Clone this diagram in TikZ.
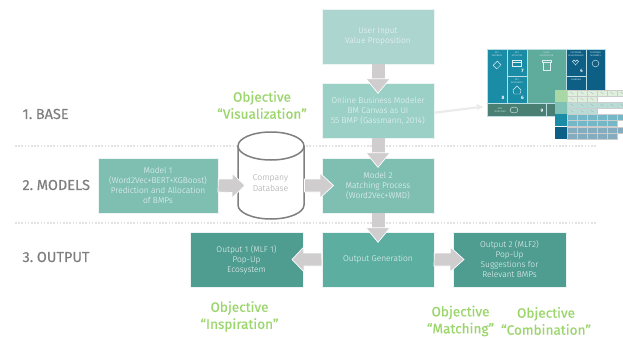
\documentclass[tikz,border=0pt]{standalone}
\usepackage{fontspec}
\setmainfont{Fira Sans}[UprightFont=* Light]
\newfontfamily\headfont{Fira Sans}[WordSpace=0.6,FakeBold=0.25]
\newfontfamily\plainhead{Fira Sans}
\definecolor{boxa}{HTML}{ADD5CF}
\definecolor{boxb}{HTML}{9AD0C6}
\definecolor{boxc}{HTML}{7FBFB2}
\definecolor{boxd}{HTML}{5CAEA0}
\definecolor{boxe}{HTML}{4F9C90}
\definecolor{arrowgrey}{HTML}{CFCDCE}
\definecolor{objgreen}{HTML}{9BD66C}
\definecolor{levelgrey}{HTML}{7F7F7F}
\definecolor{dotgrey}{HTML}{E2E2E2}
\definecolor{cblue}{HTML}{1B8CA6}
\definecolor{cdark}{HTML}{0E5F86}
\definecolor{cval}{HTML}{5FAB9C}
\definecolor{ccost}{HTML}{4A8074}
\tikzset{
  x=1pt,y=-1pt,
  procbox/.style={draw=white!85!boxc,line width=.6pt,minimum width=112pt,minimum height=55pt,inner sep=1pt,align=center,text=white!88!boxc,font=\fontsize{8.4}{10}\selectfont},
  objective/.style={text=objgreen,align=center,font=\headfont\fontsize{13.6}{17}\selectfont},
  levellabel/.style={text=levelgrey,anchor=west,font=\headfont\fontsize{14.5}{15}\selectfont},
  levelline/.style={dotgrey,line width=1.4pt,dash pattern=on 1.6pt off 1.6pt},
  blockarrow/.style={fill=arrowgrey,draw=white,line width=.7pt,line join=miter},
  tile/.style={draw=white!70!cblue,line width=.3pt},
  gridcell/.style={draw=white!60!gray,line width=.2pt},
  canvasnum/.style={text=white,font=\plainhead\bfseries\fontsize{4.8}{5}\selectfont,inner sep=0pt},
  canvastitle/.style={text=white!75!cblue,align=center,inner sep=0pt,font=\plainhead\fontsize{2.2}{2.8}\selectfont},
  canvasicon/.style={draw=white!85!cblue,line width=.4pt},
  dbwall/.style={draw=levelgrey,line width=1.5pt,fill=white}
}
\begin{document}
\begin{tikzpicture}
\useasboundingbox (0,0) rectangle (623,337);
\fill[white] (0,0) rectangle (623,337);
% level separators
\coordinate (sepAl) at (15,146); \coordinate (sepAr) at (597,146);
\coordinate (sepBl) at (15,223); \coordinate (sepBr) at (597,223);
\draw[levelline] (sepAl) -- (sepAr);
\draw[levelline] (sepBl) -- (sepBr);
% level labels
\node[levellabel] (lvlA) at (19,114) {1. BASE};
\node[levellabel] (lvlB) at (19,185) {2. MODELS};
\node[levellabel] (lvlC) at (19,257) {3. OUTPUT};
% canvas picture
\fill[tile,fill=cblue] (487,49) rectangle (507,103);
\fill[tile,fill=cblue] (507,49) rectangle (527,76);
\fill[tile,fill=cblue] (507,76) rectangle (527,103);
\fill[tile,fill=cval] (527,49) rectangle (566,103);
\fill[tile,fill=cdark] (566,49) rectangle (586,76);
\fill[tile,fill=cdark] (566,76) rectangle (586,103);
\fill[tile,fill=cdark] (586,49) rectangle (605,103);
\fill[tile,fill=ccost] (487,103) rectangle (546,116);
\fill[tile,fill=ccost] (546,103) rectangle (605,116);
\node[canvastitle] (t1) at (497,54) {KEY\\PARTNERS};
\node[canvastitle] (t2) at (517,54) {KEY\\ACTIVITIES};
\node[canvastitle] (t3) at (517,81) {KEY\\RESOURCES};
\node[canvastitle] (t4) at (546.5,54) {VALUE\\PROPOSITION};
\node[canvastitle] (t5) at (576,54) {CUSTOMER\\RELATIONSHIPS};
\node[canvastitle] (t6) at (576,80) {CHANNELS};
\node[canvastitle] (t7) at (595.5,54) {CUSTOMER\\SEGMENTS};
\node[canvastitle] (t8) at (500,110) {COST\\STRUCTURE};
\draw[canvasicon,rotate around={45:(497,65)}] (494,62.5) rectangle (500,67.5);
\draw[canvasicon] (512.5,60) rectangle (521.5,66) (512.5,62.5) -- (521.5,62.5);
\draw[canvasicon] (513,90) -- (517,86) -- (521,90) -- (520,94) -- (514,94) -- cycle;
\draw[canvasicon] (543,62) rectangle (550,70) (542,60) rectangle (551,62);
\draw[canvasicon] (575.5,65) -- (572.5,61.5) arc[start angle=180,end angle=0,radius=1.5pt] arc[start angle=180,end angle=0,radius=1.5pt] -- cycle;
\draw[canvasicon] (595.5,63.5) circle (3.4pt);
\draw[canvasicon] (514,110) ellipse (4pt and 3pt);
\node[canvasnum] (n8) at (503,98) {8};
\node[canvasnum] (n7) at (522.5,71) {7};
\node[canvasnum] (n6) at (522.5,98) {6};
\node[canvasnum] (n4) at (581.5,71) {4};
\node[canvasnum] (n9) at (542,111) {9};
% overlay grid
\foreach \y/\c/\o/\xb in {90/A9D8A6/38/598, 102/7FC1B4/55/605, 114/1B8CA6/62/623, 127/0E5F86/52/623}{
  \definecolor{rowc}{HTML}{\c}
  \fill[rowc] (555,\y) rectangle +(12,12.2);
  \fill[white] (567,\y) rectangle (623,\y+12.2);
  \foreach \i in {0,...,5}{
    \pgfmathsetmacro{\xx}{567+\i*10}
    \fill[gridcell,fill=rowc!\o!white] (\xx,\y) rectangle +(10,6.1);
    \draw[gridcell,draw=black!35] (\xx+3.5,\y+2) -- ++(3,2);
    \pgfmathparse{\xx+10<=\xb+0.1 ? 1 : 0}
    \ifnum\pgfmathresult=1\relax
      \fill[gridcell,fill=rowc!\o!white] (\xx,\y+6.1) rectangle +(10,6.1);
      \draw[gridcell,draw=black!35] (\xx+3.5,\y+8.1) -- ++(3,2);
    \fi
  }
}
% cylinder body
\draw[dbwall] (238,146) -- (238,205) arc[start angle=180,end angle=360,x radius=33pt,y radius=14pt] -- (304,146);
\draw[dbwall] (271,146) ellipse (33pt and 14pt);
\node[text=levelgrey!70,align=center,font=\fontsize{8.6}{10.5}\selectfont] (db) at (270.5,183) {Company\\Database};
% nodes
\node[procbox,fill=boxa] (input) at (378,36.5) {User Input\\Value Proposition};
\node[procbox,fill=boxb] (modeler) at (378,110.5) {Online Business Modeler\\BM Canvas as UI\\55 BMP (Gassmann, 2014)};
\node[procbox,fill=boxc] (m2) at (378,185.5) {Model 2\\Matching Process\\(Word2Vec+WMD)};
\node[procbox,fill=boxd] (gen) at (378,259.5) {Output Generation};
\node[procbox,fill=boxc,minimum width=120pt] (m1) at (158,185.5) {Model 1\\(Word2Vec+BERT+XGBoost)\\Prediction and Allocation\\of BMPs};
\node[procbox,fill=boxe,minimum width=113pt] (o1) at (246.5,259.5) {Output 1 (MLF 1)\\Pop-Up\\Ecosystem};
\node[procbox,fill=boxe,minimum width=113pt] (o2) at (509.5,259.5) {Output 2 (MLF2)\\Pop-Up\\Suggestions for\\Relevant BMPs};
% block arrows
\coordinate (a1) at (input.south);
\coordinate (a2) at (modeler.south);
\coordinate (a3) at (m2.south);
\coordinate (a4) at (gen.west);
\coordinate (a5) at (gen.east);
\coordinate (a6) at (m1.east);
\foreach \p in {a1,a2,a3}{
  \fill[arrowgrey] ([xshift=-6.5]\p) -- ([xshift=6.5]\p) -- ++(0,15) -- ++(-13,0) -- cycle;
  \filldraw[blockarrow] ([xshift=-12,yshift=-14.5]\p) -- ([xshift=12,yshift=-14.5]\p) -- ([yshift=-29]\p) -- cycle;
}
\filldraw[blockarrow] (a6) ++(0,-6.5) -- ++(14,0) -- ++(0,-5.5) -- (245,185.5) -- (232,198) -- ++(0,-5.5) -- (218,192) -- cycle;
\filldraw[blockarrow] (304.5,179) -- (320,179) -- (320,173) -- (333.5,185.5) -- (320,198) -- (320,192) -- (304.5,192) -- cycle;
\filldraw[blockarrow] (a4) ++(0,-6.5) -- ++(-18,0) -- ++(0,-6) -- (292,259.5) -- (304,272) -- ++(0,-6) -- (322,266) -- cycle;
\filldraw[blockarrow] (a5) ++(0,-6.5) -- ++(16,0) -- ++(0,-6) -- (464,259.5) -- (450,272) -- ++(0,-6) -- (434,266) -- cycle;
% thin arrow to canvas
\coordinate (canvastip) at (483,107);
\fill[black!8] (434.5,111.5) -- (477,106.4) -- (476.5,103.8) -- (canvastip) -- (477.5,110) -- (477.2,108.4) -- (434.5,113.8) -- cycle;
% objectives
\node[objective] (ov) at (262,105) {Objective\\“Visualization”};
\node[objective] (oi) at (239.5,316.5) {Objective\\“Inspiration”};
\node[objective] (om) at (460.5,321) {Objective\\“Matching”};
\node[objective] (oc) at (546,321) {Objective\\“Combination”};
\end{tikzpicture}
\end{document}
